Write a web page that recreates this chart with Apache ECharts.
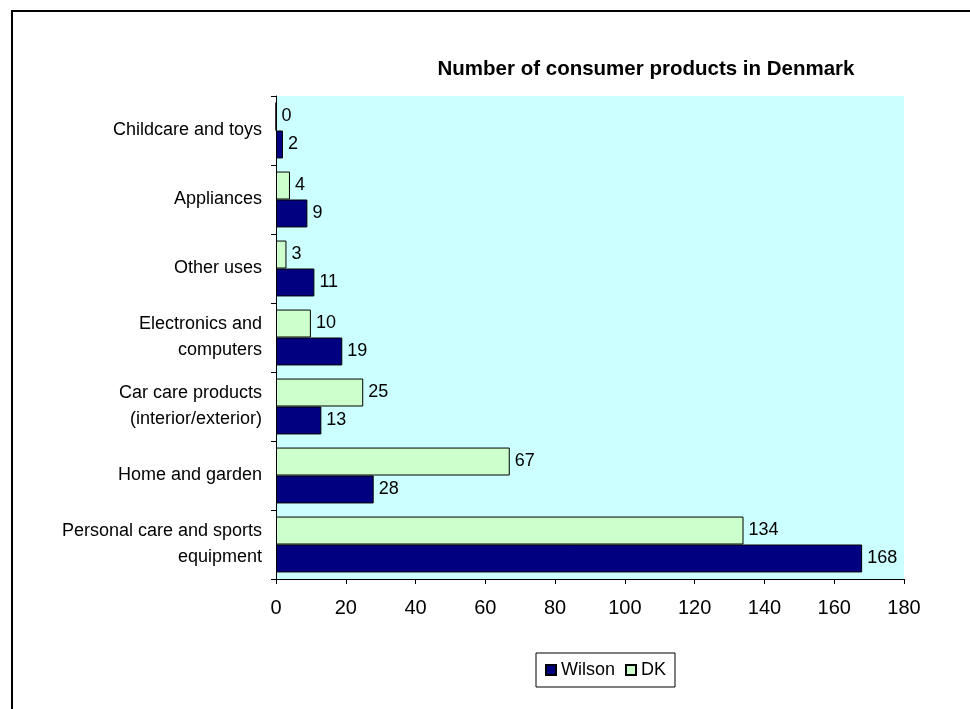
<!DOCTYPE html>
<html>
<head>
<meta charset="utf-8">
<script src="https://cdn.jsdelivr.net/npm/echarts@6/dist/echarts.min.js"></script>
<style>
  html, body { margin: 0; padding: 0; background: #fff; }
  #chart { width: 970px; height: 709px; }
</style>
</head>
<body>
<div id="chart"></div>
<script>
// categories listed bottom to top (category axis starts at the bottom)
var categories = [
  "Personal care and sports\nequipment",
  "Home and garden",
  "Car care products\n(interior/exterior)",
  "Electronics and\ncomputers",
  "Other uses",
  "Appliances",
  "Childcare and toys"
];
var wilsonData = [168, 28, 13, 19, 11, 9, 2];
var dkData = [134, 67, 25, 10, 3, 4, 0];
var xTicks = [0, 180, 20]; // min, max, interval

var chart = echarts.init(document.getElementById("chart"));

var labelStyle = {
  show: true,
  position: "right",
  distance: 5,
  color: "#000",
  fontFamily: "Liberation Sans, Arial",
  fontSize: 18
};

var option = {
  animation: false,
  backgroundColor: "#fff",
  title: {
    text: "Number of consumer products in Denmark",
    left: 641,
    textAlign: "center",
    top: 54,
    textStyle: {
      fontFamily: "Liberation Sans, Arial",
      fontWeight: "bold",
      fontSize: 20.5,
      color: "#000"
    }
  },
  legend: {
    data: ["Wilson", "DK"],
    left: 536,
    top: 653,
    padding: [8, 9],
    itemGap: 10,
    itemWidth: 10,
    itemHeight: 10,
    icon: "rect",
    borderColor: "#000",
    borderWidth: 1,
    textStyle: {
      fontFamily: "Liberation Sans, Arial",
      fontSize: 18,
      color: "#000",
      padding: [0, 0, 0, 0]
    }
  },
  graphic: [
    {
      type: "rect",
      shape: { x: 12, y: 11, width: 1000, height: 1000 },
      style: { fill: null, stroke: "#000", lineWidth: 2 },
      silent: true
    }
  ],
  grid: {
    show: true,
    left: 276,
    right: 66,
    top: 96,
    bottom: 130,
    backgroundColor: "#CCFFFF",
    borderWidth: 0
  },
  xAxis: {
    type: "value",
    min: xTicks[0],
    max: xTicks[1],
    interval: xTicks[2],
    axisLine: { show: true, lineStyle: { color: "#000", width: 1 } },
    axisTick: { show: true, length: 5, lineStyle: { color: "#000" } },
    splitLine: { show: false },
    axisLabel: {
      margin: 19,
      color: "#000",
      fontFamily: "Liberation Sans, Arial",
      fontSize: 20
    }
  },
  yAxis: {
    type: "category",
    data: categories,
    axisLine: { show: true, lineStyle: { color: "#000", width: 1 } },
    axisTick: { show: true, length: 5, lineStyle: { color: "#000" } },
    splitLine: { show: false },
    axisLabel: {
      margin: 14,
      color: "#000",
      fontFamily: "Liberation Sans, Arial",
      fontSize: 18,
      lineHeight: 26,
      align: "right"
    }
  },
  series: [
    {
      name: "DK",
      type: "bar",
      data: dkData,
      barGap: "0%",
      barCategoryGap: "19%",
      itemStyle: { color: "#CCFFCC", borderColor: "#000", borderWidth: 1 },
      label: labelStyle
    },
    {
      name: "Wilson",
      type: "bar",
      data: wilsonData,
      barGap: "0%",
      barCategoryGap: "19%",
      itemStyle: { color: "#000080", borderColor: "#000", borderWidth: 1 },
      label: labelStyle
    }
  ]
};

chart.setOption(option);
</script>
</body>
</html>
